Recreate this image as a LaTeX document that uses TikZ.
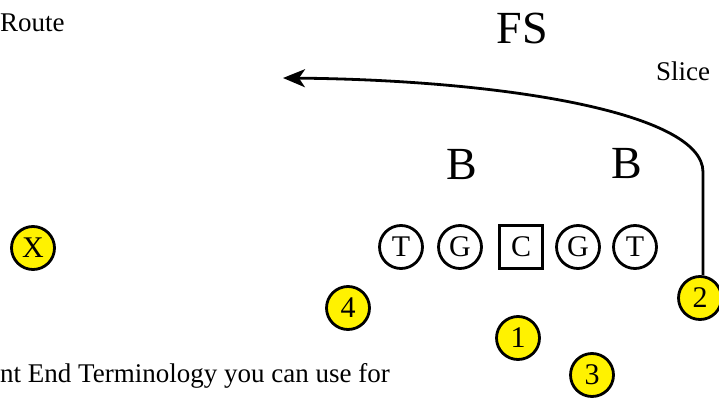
\documentclass[tikz,border=0pt]{standalone}
\usepackage{fontspec}
\setmainfont{Liberation Serif}
\usetikzlibrary{arrows.meta}

\begin{document}
\begin{tikzpicture}[x=1pt, y=-1pt,
    lineman/.style={circle, draw, line width=2.8pt, minimum size=43pt, inner sep=0pt,
      font=\fontsize{30}{36}\selectfont},
    snapper/.style={lineman, rectangle},
    backman/.style={lineman, fill=yellow},
    defender/.style={inner sep=0pt, font=\fontsize{46}{54}\selectfont},
    note/.style={inner sep=0pt, font=\fontsize{27}{32}\selectfont},
    route/.style={line width=2.8pt, -{Stealth[length=22pt, width=18pt, inset=6pt]}}]
    \useasboundingbox (0,0) rectangle (719,398);
    \clip (0,0) rectangle (719,398);

    % notes
    \node[note, anchor=base west] (routetxt) at (0,32) {Route};
    \node[note, anchor=base west] (terms) at (0,382) {nt End Terminology you can use for};

    % defense
    \node[defender] (fs) at (522,28) {FS};
    \node[defender] (bl) at (462,165) {B};
    \node[defender] (br) at (627,164) {B};

    % offensive line
    \node[lineman] (tl) at (401,247) {T};
    \node[lineman] (gl) at (460,247) {G};
    \node[snapper] (c) at (521,247) {C};
    \node[lineman] (gr) at (578,247) {G};
    \node[lineman] (tr) at (635,247) {T};

    % skill players
    \node[backman] (x) at (33,248) {X};
    \node[backman] (p4) at (348,308) {4};
    \node[backman] (p1) at (518,338) {1};
    \node[backman] (p3) at (592,375) {3};
    \node[backman] (p2) at (700,298) {2};

    % slice route
    \coordinate (bend) at (703,172);
    \coordinate (slicetip) at (283,78);
    \draw[route] (p2.north -| bend) -- (bend)
      .. controls (703,112) and (500,80) .. (slicetip);
    \node[note, anchor=base] (slicetxt) at (683,81) {Slice};
\end{tikzpicture}
\end{document}
